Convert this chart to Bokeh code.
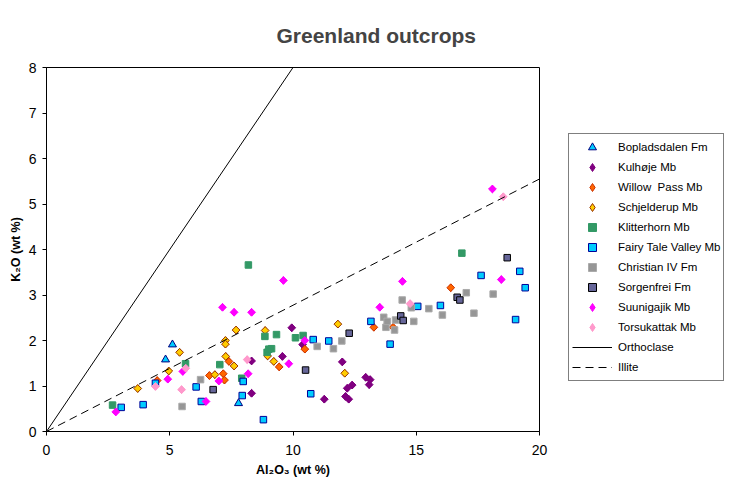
import numpy as np
from bokeh.plotting import figure
from bokeh.models import Legend, LegendItem, Range1d, FixedTicker
from bokeh.embed import file_html
from bokeh.resources import INLINE

FONT = "Liberation Sans"

# ---- data (Al2O3 wt %, K2O wt %) ----
bop_x = [4.83, 5.11, 7.79]
bop_y = [1.58, 1.91, 0.62]

kul_x = [8.32, 8.32, 9.57, 9.95, 10.39, 11.27, 12.0, 12.2, 12.4, 12.13, 12.26, 12.95, 13.13, 13.09]
kul_y = [1.55, 0.84, 1.65, 2.28, 1.91, 0.71, 1.53, 0.95, 1.02, 0.77, 0.71, 1.19, 1.14, 1.03]

wil_x = [4.49, 6.61, 7.17, 7.22, 7.40, 9.44, 10.48, 13.28, 14.06, 16.4]
wil_y = [1.12, 1.23, 1.27, 1.13, 1.54, 1.42, 1.81, 2.29, 2.29, 3.16]

sch_x = [3.70, 4.96, 5.40, 6.83, 7.26, 7.26, 7.27, 7.61, 7.69, 8.87, 8.97, 9.22, 11.82, 12.1]
sch_y = [0.945, 1.33, 1.74, 1.25, 2.0, 1.92, 1.65, 1.44, 2.23, 2.22, 1.66, 1.54, 2.36, 1.28]

kli_x = [2.68, 5.64, 7.03, 7.92, 8.19, 8.86, 8.95, 9.02, 9.13, 9.33, 10.1, 10.41, 16.85]
kli_y = [0.58, 1.49, 1.47, 1.17, 3.66, 2.09, 1.74, 1.81, 1.82, 2.13, 2.06, 2.11, 3.92]

fai_x = [3.03, 3.92, 4.42, 6.07, 6.28, 7.94, 7.98, 8.80, 10.72, 10.82, 11.45, 13.16, 13.94, 15.06, 15.98, 17.63, 19.03, 19.2, 19.42]
fai_y = [0.53, 0.59, 1.06, 0.98, 0.66, 0.79, 1.10, 0.26, 0.83, 2.02, 1.99, 2.42, 1.92, 2.75, 2.77, 3.43, 2.46, 3.52, 3.16]

chr_x = [5.50, 6.25, 10.98, 11.64, 11.98, 13.68, 13.77, 13.82, 14.12, 14.16, 14.43, 14.8, 14.9, 15.51, 16.06, 17.03, 17.34, 18.12]
chr_y = [0.55, 1.14, 1.87, 1.82, 1.99, 2.51, 2.29, 2.42, 2.23, 2.45, 2.89, 2.72, 2.42, 2.70, 2.56, 3.05, 2.6, 3.02]

sor_x = [6.76, 10.51, 12.28, 14.37, 14.47, 16.66, 16.77, 18.69]
sor_y = [0.92, 1.35, 2.16, 2.54, 2.44, 2.95, 2.89, 3.82]

suu_x = [2.81, 4.92, 5.53, 6.47, 6.99, 7.14, 7.61, 8.18, 8.32, 9.61, 9.83, 10.48, 13.52, 14.44, 18.09, 18.45]
suu_y = [0.43, 1.15, 1.32, 0.66, 1.11, 2.73, 2.62, 1.27, 2.62, 3.32, 1.49, 2.0, 2.73, 3.30, 5.33, 3.34]

tor_x = [4.42, 5.48, 5.65, 8.14, 14.75, 18.53]
tor_y = [0.99, 0.92, 1.39, 1.58, 2.81, 5.16]

ortho_x = [0, 10.1]
ortho_y = [0, 8.08]
illite_x = [0, 20]
illite_y = [0, 5.55]

x_ticks = [0, 5, 10, 15, 20]
y_ticks = [0, 1, 2, 3, 4, 5, 6, 7, 8]

p = figure(frame_width=493, frame_height=364,
           min_border_left=46, min_border_right=203,
           min_border_top=67, min_border_bottom=51,
           x_range=Range1d(0, 20), y_range=Range1d(0, 8),
           output_backend="svg", toolbar_location=None,
           background_fill_color="white", border_fill_color="white")

p.title.text = "Greenland outcrops"
p.title.text_font = FONT
p.title.text_font_size = "21px"
p.title.text_font_style = "bold"
p.title.align = "left"
p.title.offset = 230
p.title.standoff = 41

p.grid.visible = False
p.outline_line_color = "black"
p.outline_line_width = 1

for ax in (p.xaxis[0], p.yaxis[0]):
    ax.axis_line_color = "black"
    ax.major_tick_line_color = "black"
    ax.major_tick_out = 4
    ax.major_tick_in = 0
    ax.minor_tick_out = 0
    ax.minor_tick_in = 0
    ax.major_label_text_font = FONT
    ax.major_label_text_font_size = "14px"
    ax.major_label_text_color = "black"
    ax.axis_label_text_font = FONT
    ax.axis_label_text_font_size = "12.5px"
    ax.axis_label_text_font_style = "bold"
    ax.axis_label_text_color = "black"
p.xaxis.ticker = FixedTicker(ticks=x_ticks)
p.yaxis.ticker = FixedTicker(ticks=y_ticks)
p.xaxis.axis_label = "Al\u2082O\u2083 (wt %)"
p.yaxis.axis_label = "K\u2082O (wt %)"
p.xaxis.major_label_standoff = 9
p.xaxis.axis_label_standoff = 5
p.yaxis.major_label_standoff = 6
p.yaxis.axis_label_standoff = 3

D = np.pi / 4
# diamond-shaped legend glyphs, drawn under the (rotated-square) data diamonds
l_kul = p.scatter(kul_x, kul_y, marker="diamond", size=7.5, fill_color="#800080", line_color="#800080")
l_wil = p.scatter(wil_x, wil_y, marker="diamond", size=7.5, fill_color="#FF6600", line_color="#CC3300")
l_sch = p.scatter(sch_x, sch_y, marker="diamond", size=7.5, fill_color="#FFCC00", line_color="#993300")
l_suu = p.scatter(suu_x, suu_y, marker="diamond", size=7.5, fill_color="#FF00FF", line_color="#FF00FF")
l_tor = p.scatter(tor_x, tor_y, marker="diamond", size=7.5, fill_color="#FF99CC", line_color="#FF99CC")

r_bop = p.scatter(bop_x, bop_y, marker="triangle", size=8, fill_color="#00CCFF", line_color="#000080", line_width=1)
r_kul = p.scatter(kul_x, kul_y, marker="square", angle=D, size=5.5, fill_color="#800080", line_color="#800080")
r_wil = p.scatter(wil_x, wil_y, marker="square", angle=D, size=5.5, fill_color="#FF6600", line_color="#CC3300")
r_sch = p.scatter(sch_x, sch_y, marker="square", angle=D, size=5.5, fill_color="#FFCC00", line_color="#993300")
r_kli = p.scatter(kli_x, kli_y, marker="square", size=6.5, fill_color="#339966", line_color="#339966")
r_fai = p.scatter(fai_x, fai_y, marker="square", size=6.5, fill_color="#00CCFF", line_color="#000099", line_width=1)
r_chr = p.scatter(chr_x, chr_y, marker="square", size=6.5, fill_color="#969696", line_color="#AAAAAA")
r_sor = p.scatter(sor_x, sor_y, marker="square", size=6.5, fill_color="#666699", line_color="#000000", line_width=1)
r_suu = p.scatter(suu_x, suu_y, marker="square", angle=D, size=5.5, fill_color="#FF00FF", line_color="#FF00FF")
r_tor = p.scatter(tor_x, tor_y, marker="square", angle=D, size=5.5, fill_color="#FF99CC", line_color="#FF99CC")
r_ort = p.line(ortho_x, ortho_y, line_color="black", line_width=1)
r_ill = p.line(illite_x, illite_y, line_color="black", line_width=1, line_dash="8 5")

items = [
    LegendItem(label="Bopladsdalen Fm", renderers=[r_bop]),
    LegendItem(label="Kulhøje Mb", renderers=[l_kul]),
    LegendItem(label="Willow  Pass Mb", renderers=[l_wil]),
    LegendItem(label="Schjelderup Mb", renderers=[l_sch]),
    LegendItem(label="Klitterhorn Mb", renderers=[r_kli]),
    LegendItem(label="Fairy Tale Valley Mb", renderers=[r_fai]),
    LegendItem(label="Christian IV Fm", renderers=[r_chr]),
    LegendItem(label="Sorgenfrei Fm", renderers=[r_sor]),
    LegendItem(label="Suunigajik Mb", renderers=[l_suu]),
    LegendItem(label="Torsukattak Mb", renderers=[l_tor]),
    LegendItem(label="Orthoclase", renderers=[r_ort]),
    LegendItem(label="Illite", renderers=[r_ill]),
]
legend = Legend(items=items, location=(29, 50))
legend.label_text_font = FONT
legend.label_text_font_size = "11.5px"
legend.label_text_color = "black"
legend.glyph_width = 40
legend.glyph_height = 20
legend.label_height = 20
legend.spacing = 0
legend.padding = 3
legend.margin = 0
legend.label_standoff = 6
legend.border_line_color = "black"
legend.border_line_width = 1
legend.background_fill_color = "white"
legend.background_fill_alpha = 1
p.add_layout(legend, "right")

open("out.html", "w").write(file_html(p, INLINE))
